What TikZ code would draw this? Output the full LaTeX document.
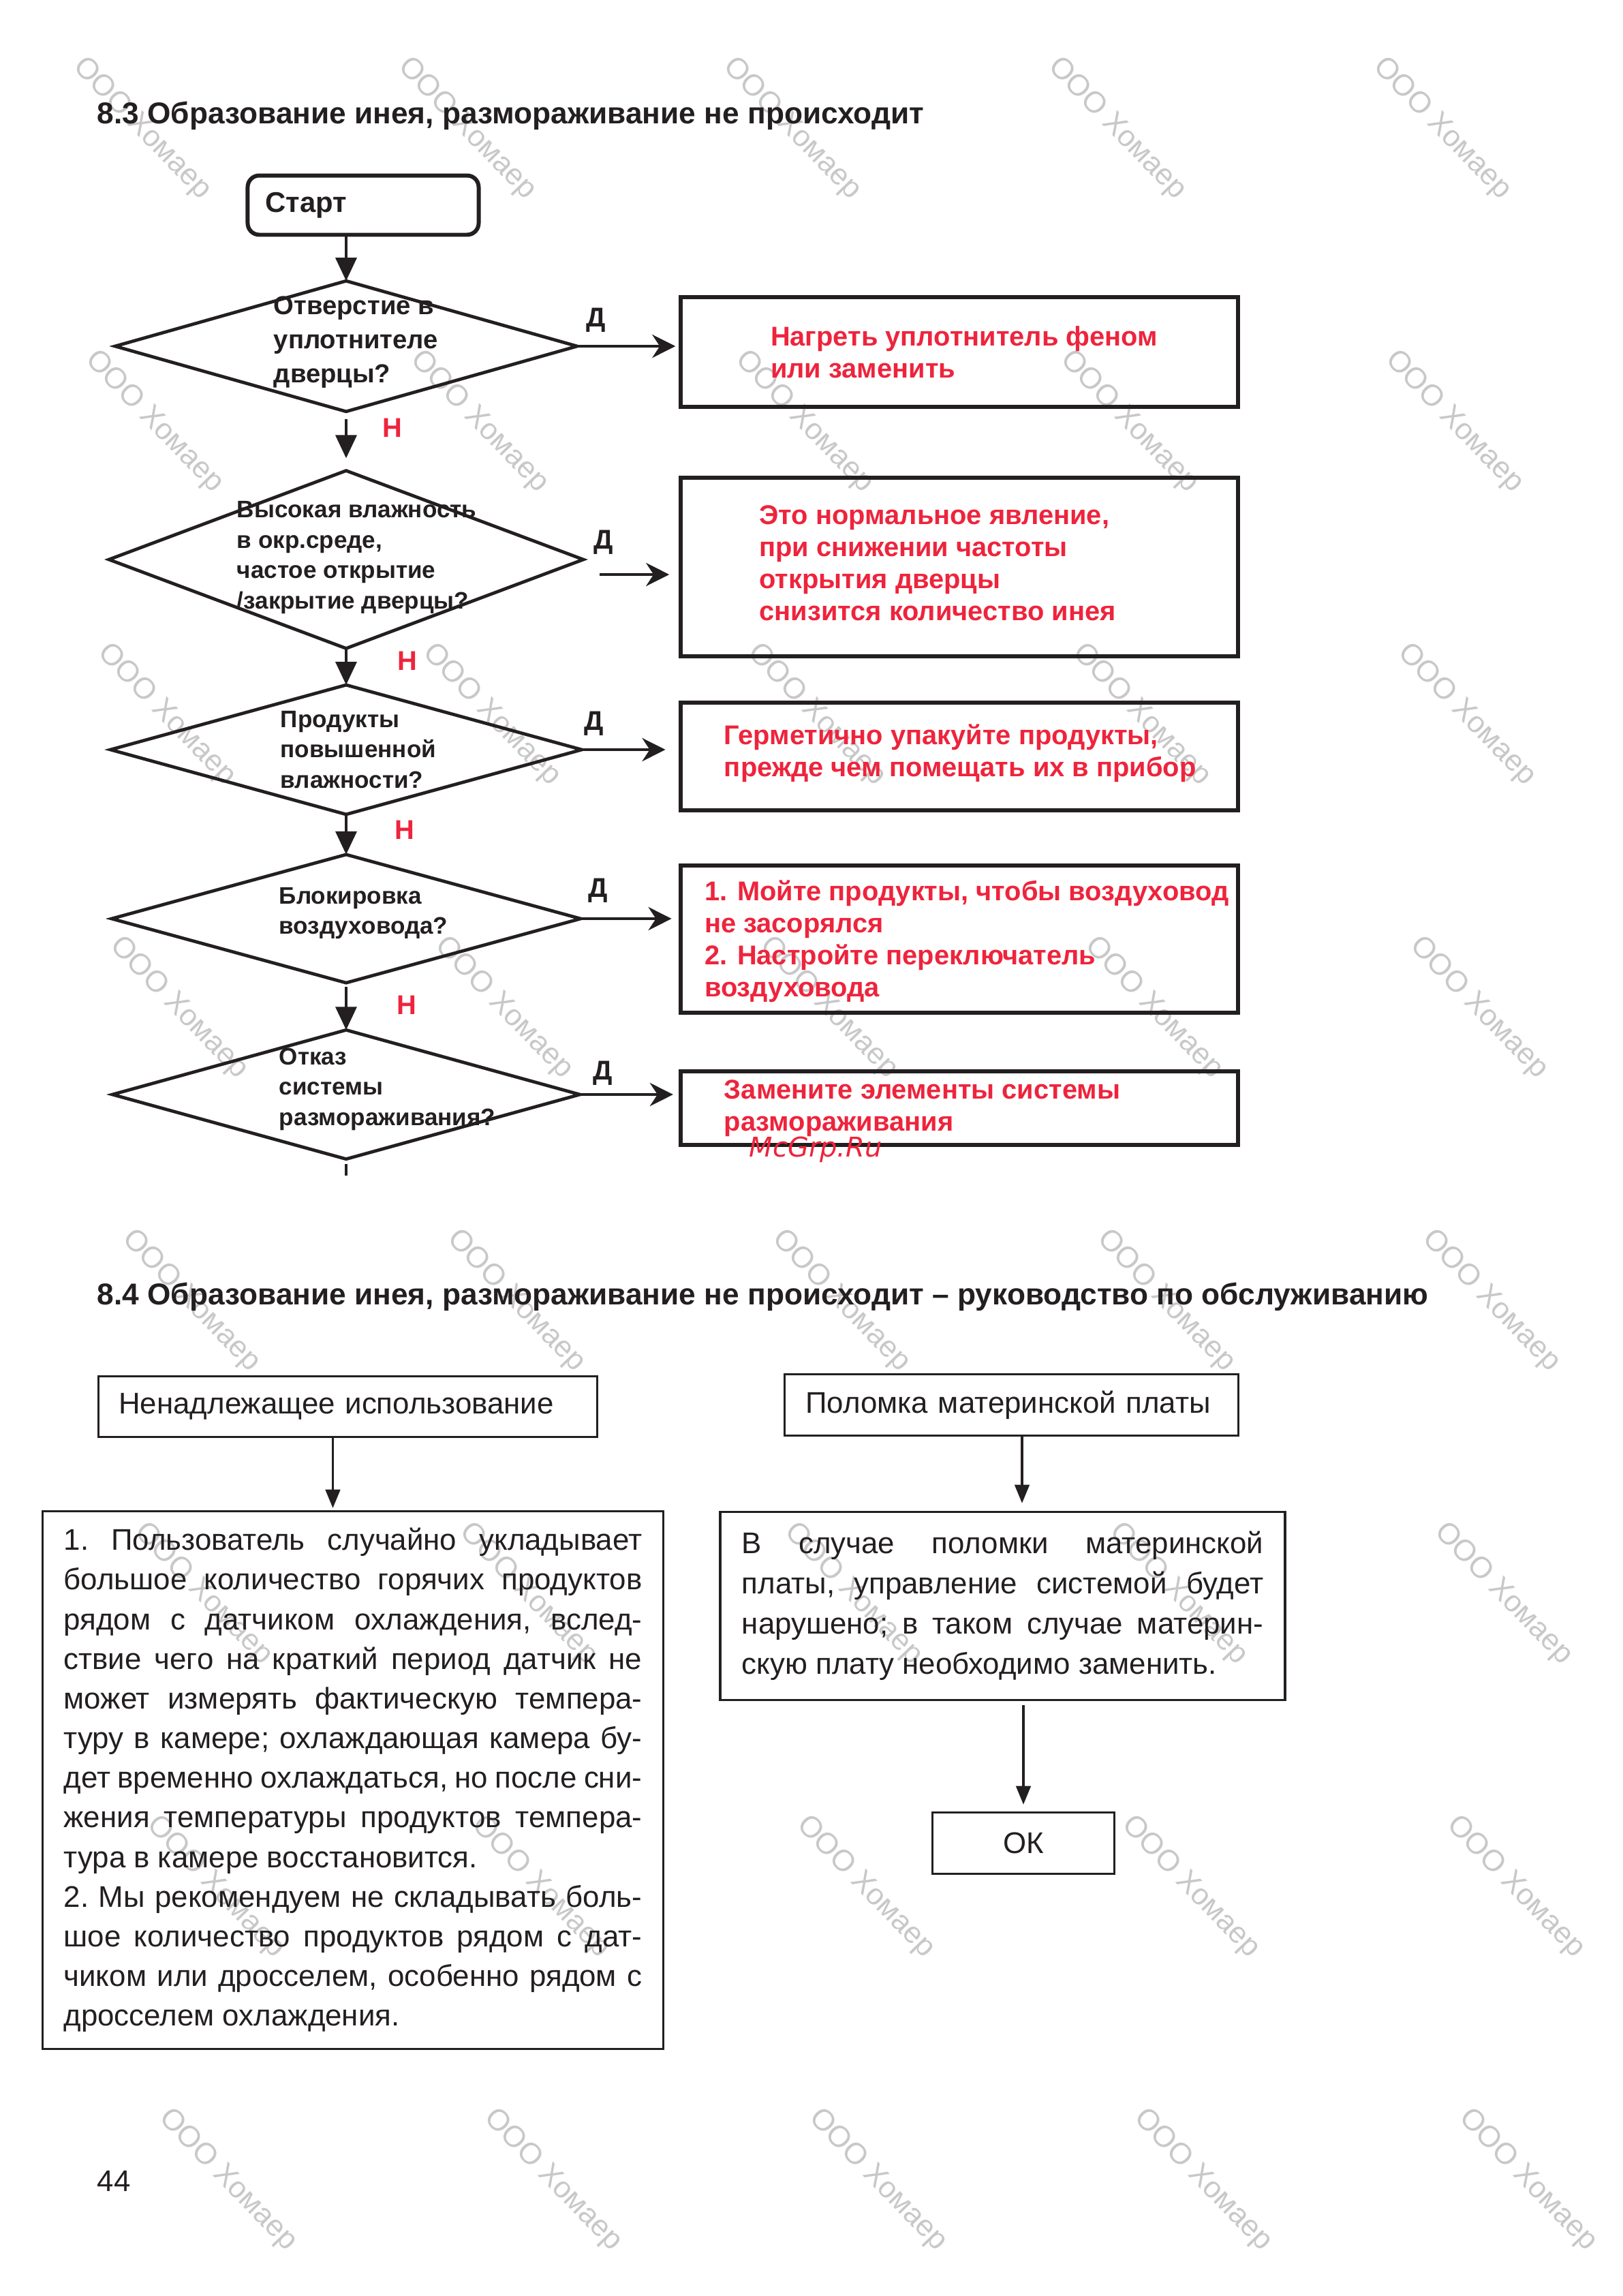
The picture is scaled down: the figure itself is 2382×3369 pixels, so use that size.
\documentclass[tikz,border=0pt]{standalone}
\usepackage{fontspec}
\setmainfont{Liberation Sans}
\newfontfamily\mcgrpfont{DejaVu Sans}
\usetikzlibrary{shapes.geometric,arrows.meta,calc}

\definecolor{ink}{RGB}{35,31,32}
\definecolor{inkred}{RGB}{238,36,60}
\definecolor{wmgray}{RGB}{200,200,200}

% justified lines of a text block
\newlength{\blockw}
\newcommand{\justblock}[1]{\setlength{\blockw}{#1}\frenchspacing
    \spaceskip=0.278em plus 1.5em minus 0.1em\relax}
\newcommand{\jline}[1]{\makebox[\blockw][s]{#1}}

\begin{document}
\begin{tikzpicture}[x=0.0088161cm, y=-0.0088161cm,
    decision/.style={diamond, draw=ink, line width=1.2pt, inner sep=0pt, outer sep=0pt},
    answer/.style={rectangle, draw=ink, line width=1.5pt, inner sep=0pt, outer sep=0pt,
        minimum width=7.21cm},
    qtext/.style={anchor=west, inner sep=0pt, align=left, text=ink,
        font=\bfseries\fontsize{8.8}{11.2}\selectfont},
    atext/.style={anchor=west, inner sep=0pt, align=left, text=inkred,
        font=\bfseries\fontsize{10}{11.8}\selectfont},
    yeslabel/.style={inner sep=0pt, text=ink, font=\bfseries\fontsize{10}{12}\selectfont},
    nolabel/.style={inner sep=0pt, text=inkred, font=\bfseries\fontsize{10}{12}\selectfont},
    flow/.style={draw=ink, line width=1.2pt, -{Triangle[length=0.3cm,width=0.27cm]}},
    side/.style={draw=ink, line width=1.2pt, -{Stealth[length=0.3cm,width=0.3cm]}},
    plainbox/.style={rectangle, draw=ink, line width=0.8pt, outer sep=0pt, inner ysep=0pt,
        align=left, text=ink, font=\fontsize{11}{14.6}\selectfont},
    link/.style={draw=ink, line width=0.8pt, -{Triangle[length=0.24cm,width=0.19cm]}},
    heading/.style={anchor=west, inner sep=0pt, text=ink, font=\bfseries\fontsize{11.1}{13}\selectfont},
    wmark/.style={text=wmgray, rotate=-46, inner sep=0pt, font=\fontsize{11}{13}\selectfont}]

    \fill [white] (0,0) rectangle (2382,3369);
    \useasboundingbox (0,0) rectangle (2382,3369);

    % watermark
    \foreach \r in {0,...,7} {
        \foreach \c in {0,...,4} {
            \node [wmark] (wm\r\c) at ({208+477*\c+18*\r},{189+430*\r}) {ООО Хомаер};
        }
    }

    % 8.3 flowchart
    \node [heading] (title83) at (142,170)
        {8.3 Образование инея, размораживание не происходит};

    \node [draw=ink, line width=1.5pt, rounded corners=0.15cm, minimum width=2.99cm,
        minimum height=0.767cm, text width=2.53cm, inner xsep=0.23cm, align=left,
        text=ink, font=\bfseries\fontsize{10.5}{12}\selectfont] (start) at (533,301) {Старт};

    \node [decision, minimum width=5.98cm, minimum height=1.69cm] (q1) at (508,508) {};
    \node [decision, minimum width=6.14cm, minimum height=2.30cm] (q2) at (508,821) {};
    \node [decision, minimum width=6.10cm, minimum height=1.675cm] (q3) at (508,1100) {};
    \node [decision, minimum width=6.07cm, minimum height=1.66cm] (q4) at (508,1348) {};
    \node [decision, minimum width=6.05cm, minimum height=1.67cm] (q5) at (508,1606) {};

    \node [qtext, font=\bfseries\fontsize{9.6}{12.5}\selectfont] (q1t) at (401,502)
        {Отверстие в\\уплотнителе\\дверцы?};
    \node [qtext] (q2t) at (347,818)
        {Высокая влажность\\в окр.среде,\\частое открытие\\/закрытие дверцы?};
    \node [qtext] (q3t) at (411,1100) {Продукты\\повышенной\\влажности?};
    \node [qtext] (q4t) at (409,1340) {Блокировка\\воздуховода?};
    \node [qtext] (q5t) at (409,1598) {Отказ\\системы\\размораживания?};

    \node [answer, minimum height=1.42cm] (b1) at (1408,516.5) {};
    \node [answer, minimum height=2.31cm] (b2) at (1408,832) {};
    \node [answer, minimum height=1.39cm] (b3) at (1408,1110) {};
    \node [answer, minimum height=1.90cm] (b4) at (1408,1378) {};
    \node [answer, minimum height=0.95cm] (b5) at (1408,1626) {};

    \node [atext] (a1) at ([xshift=1.155cm]b1.west)
        {Нагреть уплотнитель феном\\или заменить};
    \node [atext] (a2) at ([xshift=1.01cm, yshift=0.05cm]b2.west)
        {Это нормальное явление,\\при снижении частоты\\открытия дверцы\\снизится количество инея};
    \node [atext] (a3) at ([xshift=0.555cm, yshift=0.045cm]b3.west)
        {Герметично упакуйте продукты,\\прежде чем помещать их в прибор};
    \node [atext] (a4) at ([xshift=0.30cm, yshift=-0.03cm]b4.west)
        {1. Мойте продукты, чтобы воздуховод\\не засорялся\\2. Настройте переключатель\\воздуховода};
    \node [atext] (a5) at ([xshift=0.555cm]b5.west)
        {Замените элементы системы\\размораживания};

    \draw [flow] (start.south -| q1.north) -- (q1.north);
    \draw [flow, shorten <=0.1cm, shorten >=0.16cm] (q1.south) -- (q2.north);
    \draw [flow] (q2.south) -- (q3.north);
    \draw [flow] (q3.south) -- (q4.north);
    \draw [flow, shorten <=0.05cm] (q4.south) -- (q5.north);
    \coordinate (q5end) at ($(q5.south)+(0,24)$);
    \draw [draw=ink, line width=1.2pt, shorten <=0.06cm] (q5.south) -- (q5end);

    \coordinate (q2out) at (880,843);
    \draw [side, shorten >=0.07cm] (q1.east) -- (q1.east -| b1.west);
    \draw [side, shorten >=0.15cm] (q2out) -- (q2out -| b2.west);
    \draw [side, shorten >=0.2cm] (q3.east) -- (q3.east -| b3.west);
    \draw [side, shorten >=0.12cm] (q4.east) -- (q4.east -| b4.west);
    \draw [side, shorten >=0.1cm] (q5.east) -- (q5.east -| b5.west);

    \node [yeslabel] (y1) at (875,470) {Д};
    \node [yeslabel] (y2) at (886,796) {Д};
    \node [yeslabel] (y3) at (872,1062) {Д};
    \node [yeslabel] (y4) at (878,1307) {Д};
    \node [yeslabel] (y5) at (885,1575) {Д};

    \node [nolabel] (n1) at (576,628) {Н};
    \node [nolabel] (n2) at (598,970) {Н};
    \node [nolabel] (n3) at (594,1218) {Н};
    \node [nolabel] (n4) at (597,1475) {Н};

    \node [anchor=west, inner sep=0pt, text=inkred,
        font=\mcgrpfont\itshape\fontsize{10}{12}\selectfont] (mcgrp) at (1099,1687) {McGrp.Ru};

    % 8.4 service guide
    \node [heading] (title84) at (142,1903)
        {8.4 Образование инея, размораживание не происходит – руководство по обслуживанию};

    \node [plainbox, minimum width=6.46cm, minimum height=0.79cm, text width=5.93cm,
        inner xsep=0.265cm] (misuse) at (510.5,2064) {Ненадлежащее использование};
    \node [plainbox, minimum width=5.88cm, minimum height=0.80cm, text width=5.33cm,
        inner xsep=0.275cm] (board) at (1484.5,2061.5) {\mbox{Поломка материнской платы}};

    \node [plainbox, minimum width=8.04cm, minimum height=6.96cm, text width=7.485cm,
        inner xsep=0.2775cm] (misusefix) at (518,2612) {%
        \justblock{7.485cm}%
        \jline{1. Пользователь случайно укладывает}\\
        \jline{большое количество горячих продуктов}\\
        \jline{рядом с датчиком охлаждения, вслед-}\\
        \jline{ствие чего на краткий период датчик не}\\
        \jline{может измерять фактическую темпера-}\\
        \jline{туру в камере; охлаждающая камера бу-}\\
        \jline{дет временно охлаждаться, но после сни-}\\
        \jline{жения температуры продуктов темпера-}\\
        тура в камере восстановится.\\
        \jline{2. Мы рекомендуем не складывать боль-}\\
        \jline{шое количество продуктов рядом с дат-}\\
        \jline{чиком или дросселем, особенно рядом с}\\
        дросселем охлаждения.};

    \node [plainbox, minimum width=7.31cm, minimum height=2.44cm, text width=6.75cm,
        inner xsep=0.28cm, font=\fontsize{11}{14.8}\selectfont] (boardfix) at (1471.5,2356.5) {%
        \justblock{6.75cm}%
        \jline{В случае поломки материнской}\\
        \jline{платы, управление системой будет}\\
        \jline{нарушено; в таком случае материн-}\\
        скую плату необходимо заменить.};

    \node [plainbox, minimum width=2.35cm, minimum height=0.80cm] (ok) at (1502,2704.5) {ОК};

    \draw [link, shorten >=0.04cm] ($(misuse.south)+(-22,0)$) -- ($(misuse.south |- misusefix.north)+(-22,0)$);
    \draw [link, shorten >=0.11cm] ($(board.south)+(15.5,0)$) -- ($(board.south |- boardfix.north)+(15.5,0)$);
    \draw [link, shorten <=0.06cm, shorten >=0.1cm] (boardfix.south -| ok.north) -- (ok.north);

    \node [anchor=west, inner sep=0pt, text=ink, font=\fontsize{11}{13}\selectfont] (page) at (142,3200) {44};
\end{tikzpicture}
\end{document}
